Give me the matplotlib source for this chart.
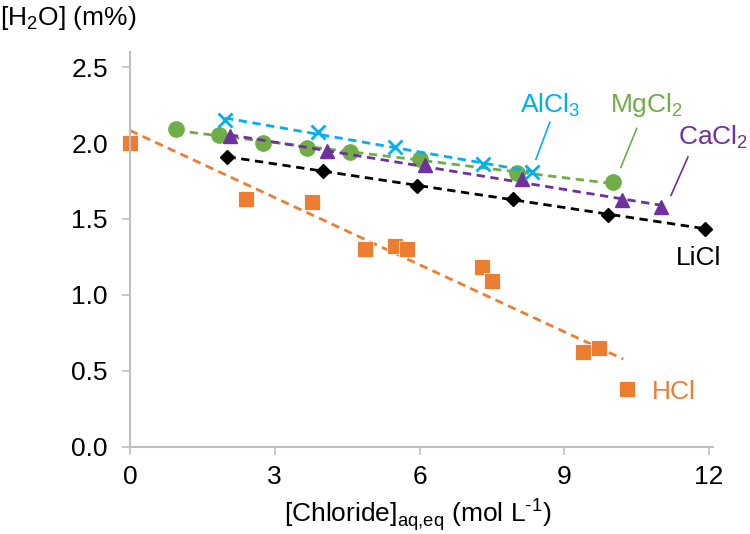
import matplotlib.pyplot as plt
import numpy as np

plt.rcParams['font.family'] = ['Liberation Sans', 'DejaVu Sans']

# HCl
hcl_x = [0.0, 2.40, 3.78, 4.86, 5.49, 5.73, 7.30, 7.51, 9.38, 9.71, 10.29]
hcl_y = [2.00, 1.634, 1.612, 1.303, 1.32, 1.303, 1.184, 1.09, 0.625, 0.647, 0.378]
hcl_fit_x = [0.0, 10.22]
hcl_fit_y = [2.083, 0.577]

# LiCl
licl_x = [2.02, 3.99, 5.95, 7.93, 9.91, 11.92]
licl_y = [1.908, 1.816, 1.72, 1.634, 1.529, 1.434]

# MgCl2
mg_x = [0.95, 1.85, 2.75, 3.66, 4.56, 6.01, 8.01, 10.0]
mg_y = [2.095, 2.051, 2.003, 1.97, 1.941, 1.893, 1.80, 1.743]

# CaCl2
ca_x = [2.07, 4.09, 6.11, 8.12, 10.19, 11.0]
ca_y = [2.044, 1.947, 1.853, 1.766, 1.623, 1.579]

# AlCl3
al_x = [1.97, 3.89, 5.49, 7.32, 8.32]
al_y = [2.154, 2.073, 1.974, 1.864, 1.81]

orange = '#ED7D31'
green = '#70AD47'
purple = '#7030A0'
cyan = '#00B0F0'
grey = '#BFBFBF'

fig = plt.figure(figsize=(7.5, 5.34), dpi=100)
ax = fig.add_axes([0.1733, 0.1635, 0.7774, 0.7391])


def trend(x, y):
    k, d = np.polyfit(x, y, 1)
    xx = np.array([min(x), max(x)])
    return xx, k * xx + d


# HCl
ax.plot(hcl_fit_x, hcl_fit_y, '--', color=orange, lw=2, dashes=(3, 2))
ax.plot(hcl_x, hcl_y, 's', color=orange, ms=12, mec='white', mew=0.6, clip_on=False)

# LiCl
tx, ty = trend(licl_x, licl_y)
ax.plot(tx, ty, '--', color='black', lw=2, dashes=(3, 2))
ax.plot(licl_x, licl_y, 'D', color='black', ms=7)

# MgCl2
tx, ty = trend(mg_x, mg_y)
ax.plot(tx, ty, '--', color=green, lw=2, dashes=(3, 2))
ax.plot(mg_x, mg_y, 'o', color=green, ms=11)

# CaCl2
tx, ty = trend(ca_x, ca_y)
ax.plot(tx, ty, '--', color=purple, lw=2, dashes=(3, 2))
ax.plot(ca_x, ca_y, '^', color=purple, ms=10)

# AlCl3
tx, ty = trend(al_x, al_y)
ax.plot(tx, ty, '--', color=cyan, lw=2, dashes=(3, 2))
ax.plot(al_x, al_y, 'x', color=cyan, ms=10, mew=2)

# labels with leader lines
fs = 19
ax.text(8.70, 2.25, 'AlCl$_\\mathregular{3}$', color=cyan, fontsize=fs, ha='center', va='center')
ax.plot([8.41, 8.70], [1.893, 2.138], color=cyan, lw=1.2)
ax.text(10.71, 2.25, 'MgCl$_\\mathregular{2}$', color=green, fontsize=fs, ha='center', va='center')
ax.plot([10.17, 10.50], [1.840, 2.097], color=green, lw=1.2)
ax.text(12.08, 2.04, 'CaCl$_\\mathregular{2}$', color=purple, fontsize=fs, ha='center', va='center',
        clip_on=False)
ax.plot([11.21, 11.56], [1.656, 1.908], color=purple, lw=1.2)
ax.text(11.79, 1.24, 'LiCl', color='black', fontsize=fs, ha='center', va='center')
ax.text(10.82, 0.36, 'HCl', color=orange, fontsize=fs, ha='left', va='center')

ax.set_xlim(0, 12.08)
ax.set_ylim(0, 2.6)
ax.set_xticks([0, 3, 6, 9, 12])
ax.set_yticks([0.0, 0.5, 1.0, 1.5, 2.0, 2.5])
ax.set_yticklabels(['0.0', '0.5', '1.0', '1.5', '2.0', '2.5'])

ax.spines['right'].set_color('none')
ax.spines['top'].set_color('none')
ax.spines['left'].set_color(grey)
ax.spines['bottom'].set_color(grey)
ax.spines['left'].set_linewidth(1.5)
ax.spines['bottom'].set_linewidth(1.5)
ax.tick_params(colors=grey, labelcolor='black', labelsize=fs, width=1.2, length=6)
ax.tick_params(axis='x', pad=7)
ax.tick_params(axis='y', pad=10)

fig.text(0.0, 0.966, '[H$_\\mathregular{2}$O] (m%)', fontsize=fs, ha='left', va='center')
fig.text(0.557, 0.037, '[Chloride]$_{\\mathregular{aq{,}eq}}$ (mol L$^{\\mathregular{\u20101}}$)',
         fontsize=fs, ha='center', va='center')

fig.savefig('out.png', dpi=100)
